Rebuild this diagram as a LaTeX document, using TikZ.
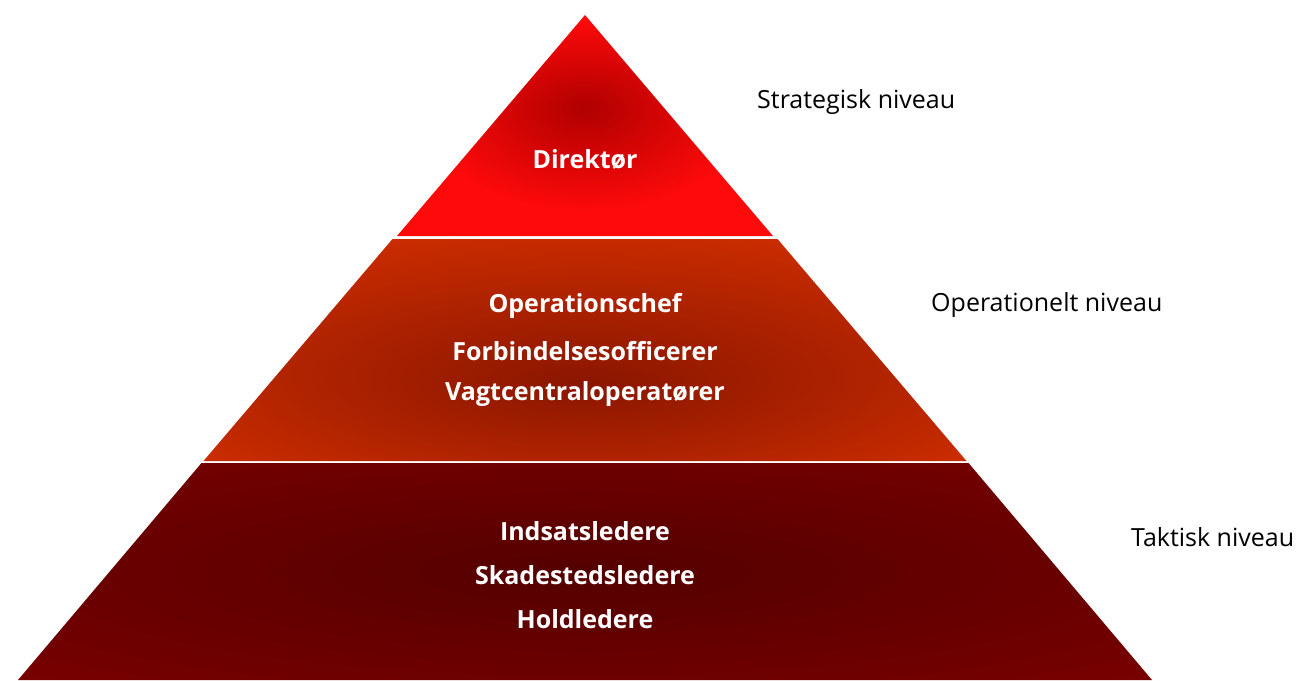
\documentclass[tikz,border=0pt]{standalone}
\usepackage{fontspec}
\setmainfont{Open Sans}
\definecolor{topdark}{HTML}{B00000}
\definecolor{topedge}{HTML}{FF0A0A}
\definecolor{middark}{HTML}{8A1600}
\definecolor{midedge}{HTML}{DB3200}
\definecolor{botdark}{HTML}{540000}
\definecolor{botedge}{HTML}{820000}
\pgfdeclareradialshading{tiertop}{\pgfpoint{0bp}{4bp}}{color(0bp)=(topdark); color(22bp)=(topedge); color(60bp)=(topedge)}
\pgfdeclareradialshading{tiermid}{\pgfpoint{0bp}{-8bp}}{color(0bp)=(middark); color(40bp)=(midedge); color(70bp)=(midedge)}
\pgfdeclareradialshading{tierbot}{\pgfpoint{0bp}{0bp}}{color(0bp)=(botdark); color(45bp)=(botedge); color(70bp)=(botedge)}
\tikzset{
  tierlabel/.style={text=white, font=\bfseries\fontsize{25}{30}\selectfont, align=center, inner sep=0pt},
  levellabel/.style={text=black, font=\fontsize{25}{30}\selectfont, anchor=west, inner sep=0pt}
}
\begin{document}
\begin{tikzpicture}[x=1pt,y=-1pt]
\useasboundingbox (0,0) rectangle (1298,680);
\fill[white] (0,0) rectangle (1298,680);
% tiers
\shade[shading=tiertop] (585,15) -- (773,236) -- (397,236) -- cycle;
\shade[shading=tiermid] (392.5,239) -- (777.5,239) -- (966.5,461) -- (203.5,461) -- cycle;
\shade[shading=tierbot] (201.5,463) -- (968.5,463) -- (1152,680) -- (18,680) -- cycle;
% tier texts
\node[tierlabel] (dir) at (585,159) {Direktør};
\node[tierlabel] (op1) at (585,306) {Operationschef};
\node[tierlabel] (op2) at (585,351) {Forbindelsesofficerer};
\node[tierlabel] (op3) at (585,394) {Vagtcentraloperatører};
\node[tierlabel] (ta1) at (585,531) {Indsatsledere};
\node[tierlabel] (ta2) at (585,575) {Skadestedsledere};
\node[tierlabel] (ta3) at (585,619) {Holdledere};
% level texts
\node[levellabel] (lvs) at (757,102) {Strategisk niveau};
\node[levellabel] (lvo) at (931,305) {Operationelt niveau};
\node[levellabel] (lvt) at (1131,537) {Taktisk niveau};
\end{tikzpicture}
\end{document}
